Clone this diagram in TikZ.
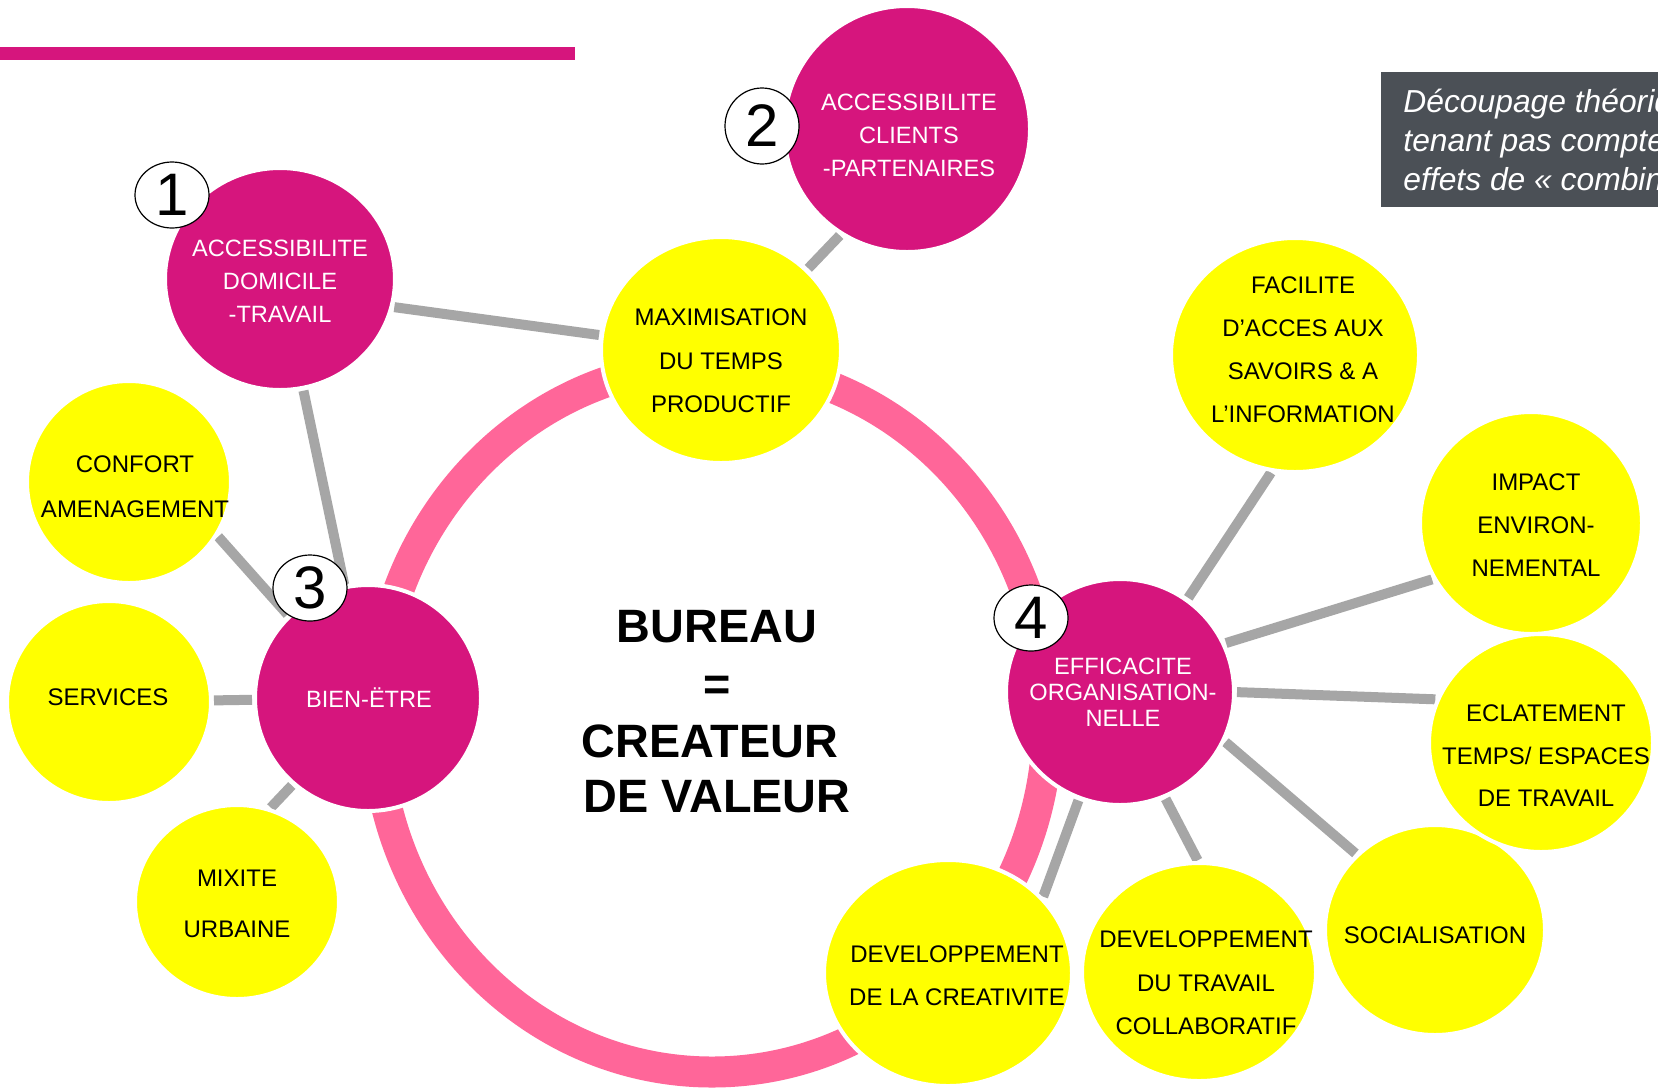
\documentclass[tikz,border=0pt]{standalone}
\usepackage{fontspec}
\setmainfont{Liberation Sans}
\usetikzlibrary{shapes.geometric,backgrounds}
\definecolor{mag}{RGB}{214,21,125}
\definecolor{ringpink}{RGB}{255,102,153}
\definecolor{yel}{RGB}{255,255,0}
\definecolor{gry}{RGB}{166,166,166}
\definecolor{boxgray}{RGB}{75,80,86}
\tikzset{
  circ/.style 2 args={ellipse, inner sep=0pt, outer sep=0pt, minimum width=#1pt, minimum height=#2pt, draw=white, line width=2pt},
  pinkc/.style 2 args={circ={#1}{#2}, fill=mag},
  yelc/.style 2 args={circ={#1}{#2}, fill=yel},
  badge/.style 2 args={ellipse, inner sep=0pt, minimum width=#1pt, minimum height=#2pt, fill=white, draw=black, line width=0.6pt, font=\fontsize{30}{30}\selectfont},
  ptxt/.style={text=white, align=center, inner sep=0pt, font=\fontsize{11.8}{#1}\selectfont},
  ytxt/.style={text=black, align=center, inner sep=0pt, font=\fontsize{12}{#1}\selectfont},
  conn/.style={draw=gry, line width=5pt, shorten >=1.5pt, shorten <=1.5pt},
  ringst/.style={draw=ringpink, line width=15.5pt},
  bigtxt/.style={font=\fontsize{23.4}{28}\selectfont\bfseries, inner sep=0pt},
  notetxt/.style={text=white, font=\fontsize{15.9}{19.3}\selectfont\itshape, inner sep=0pt, anchor=base west},
}
\begin{document}
\begin{tikzpicture}[x=0.5pt, y=-0.5pt]
\useasboundingbox (0,0) rectangle (1658,1088);
\clip (0,0) rectangle (1658,1088);
% top bar and note box
\fill[mag] (0,47) rectangle (575,60);
\fill[boxgray] (1381,72) rectangle (1700,207);
\node[notetxt] (note1) at (1403,112) {Découpage théorique};
\node[notetxt] (note2) at (1403,151) {tenant pas compte};
\node[notetxt] (note3) at (1403,190) {effets de « combinaison};
% yellow circles
\node[yelc={120}{113}] (max) at (721,350) {};
\node[yelc={124}{117}] (fac) at (1295,355) {};
\node[yelc={111}{111}] (imp) at (1531,523) {};
\node[yelc={110}{105}] (soc) at (1435,930) {};
\node[yelc={112}{109}] (ecl) at (1541,743) {};
\node[yelc={117}{109}] (devt) at (1199,972) {};
\node[yelc={124}{113}] (devc) at (948,973) {};
\node[yelc={102}{101}] (conf) at (129,482) {};
\node[yelc={102}{101}] (serv) at (109,702) {};
\node[yelc={102}{97}] (mix) at (237,902) {};
% pink circles
\node[pinkc={115}{111}] (n1) at (280,279) {};
\node[pinkc={123}{123}] (n2) at (907,129) {};
\node[pinkc={114}{113}] (eff) at (1120,692) {};
\node[pinkc={113}{113}] (bien) at (368,698) {};
% texts
\node[ptxt=16.5] (t1) at (280,281) {ACCESSIBILITE\\DOMICILE\\-TRAVAIL};
\node[ptxt=16.5] (t2) at (909,135) {ACCESSIBILITE\\CLIENTS\\-PARTENAIRES};
\node[ytxt=21.75] (tmax) at (721,361) {MAXIMISATION\\DU TEMPS\\PRODUCTIF};
\node[ytxt=21.5] (tfac) at (1303,350) {FACILITE\\D’ACCES AUX\\SAVOIRS \& A\\L’INFORMATION};
\node[ytxt=21.5] (timp) at (1536,525) {IMPACT\\ENVIRON-\\NEMENTAL};
\node[ytxt=21.25] (tecl) at (1546,756) {ECLATEMENT\\TEMPS/ ESPACES\\DE TRAVAIL};
\node[ytxt=15] (tsoc) at (1435,935) {SOCIALISATION};
\node[ytxt=21.75] (tdevt) at (1206,983) {DEVELOPPEMENT\\DU TRAVAIL\\COLLABORATIF};
\node[ytxt=21.5] (tdevc) at (957,976) {DEVELOPPEMENT\\DE LA CREATIVITE};
\node[ptxt=13] (teff) at (1123,692) {EFFICACITE\\ORGANISATION-\\NELLE};
\node[ptxt=15] (tbien) at (369,698) {BIEN-ËTRE};
\node[ytxt=22.3] (tconf) at (135,487) {CONFORT\\AMENAGEMENT};
\node[ytxt=15] (tserv) at (108,697) {SERVICES};
\node[ytxt=25.25] (tmix) at (237,904) {MIXITE\\URBAINE};
% badges
\node[badge={37}{33}] (b1) at (172,195) {1};
\node[badge={37}{38}] (b2) at (762,126) {2};
\node[badge={37}{33}] (b3) at (310,588) {3};
\node[badge={37}{33}] (b4) at (1031,618) {4};
% central text
\node[bigtxt, anchor=base] (bur1) at (717,642) {BUREAU};
\node[bigtxt] (bur2) at (717,688) {=};
\node[bigtxt, anchor=base] (bur3) at (710,757) {CREATEUR};
\node[bigtxt, anchor=base] (bur4) at (717,812) {DE VALEUR};
% ring and connectors behind
\begin{scope}[on background layer]
\fill[white] (0,0) rectangle (1658,1088);
\draw[ringst] (712,718) ellipse [x radius=336, y radius=354];
\draw[conn] (n1.-14) -- (max.173);
\draw[conn] (n1) -- (bien);
\draw[conn] (n2.238) -- (max.43);
\draw[conn] (conf.-31) -- (bien.134);
\draw[conn] (serv) -- (bien);
\draw[conn] (mix.71) -- (bien.229);
\draw[conn] (eff.54) -- (fac.259);
\draw[conn] (eff.25) -- (imp.210);
\draw[conn] (eff.0) -- (ecl.157);
\draw[conn] (eff.-25) -- (soc.136);
\draw[conn] (eff.-67) -- (devt.90);
\draw[conn] (eff.249) -- (devc.38);
\end{scope}
\end{tikzpicture}
\end{document}
